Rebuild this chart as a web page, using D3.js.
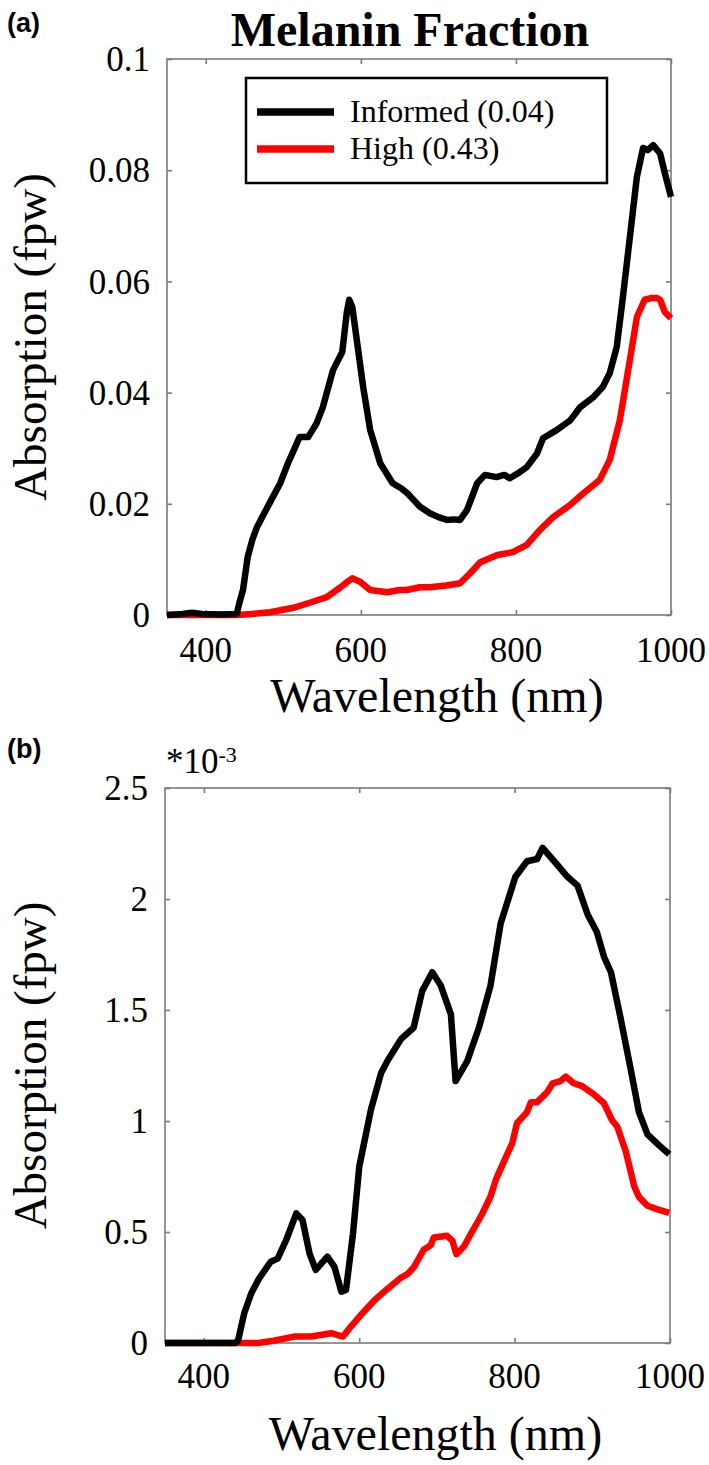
<!DOCTYPE html>
<html>
<head>
<meta charset="utf-8">
<script src="https://cdn.jsdelivr.net/npm/d3@7"></script>
<style>
  html, body { margin: 0; padding: 0; background: #fff; }
  svg { display: block; }
</style>
</head>
<body>
<svg id="chart" width="709" height="1465"></svg>
<script>
// ---------- DATA ----------
const xTicks = [400, 600, 800, 1000];
const yTicksA = [0, 0.02, 0.04, 0.06, 0.08, 0.1];
const yTickLabelsA = ["0", "0.02", "0.04", "0.06", "0.08", "0.1"];
const yTicksB = [0, 0.5, 1, 1.5, 2, 2.5];
const yTickLabelsB = ["0", "0.5", "1", "1.5", "2", "2.5"];
const seriesNames = ["Informed (0.04)", "High (0.43)"];
const seriesColors = ["#000000", "#ff0000"];

// Panel (a) – Informed (black)
const aInformedWl = [350,370,382,395,420,440,443,448,454,460,466,472,483,496,506,514,521,532,543,551,564,576,582,585,589,596,603,612,625,641,652,660,668,676,689,700,711,720,728,737,750,760,775,785,792,804,814,827,835,853,870,883,900,912,921,930,938,947,956,964,970,977,986,992,1000];
const aInformedVal = [0,0.0002,0.0004,0.0002,0.0001,0.0002,0.002,0.0045,0.0104,0.0135,0.0158,0.0174,0.0203,0.0237,0.0273,0.0298,0.032,0.032,0.0345,0.0374,0.044,0.0473,0.0545,0.0567,0.0554,0.0482,0.041,0.0333,0.0273,0.0237,0.0228,0.0219,0.0207,0.0195,0.0183,0.0176,0.0171,0.0172,0.0171,0.0189,0.0237,0.0252,0.0248,0.0252,0.0246,0.0256,0.0266,0.029,0.0318,0.0333,0.035,0.0374,0.0392,0.041,0.0435,0.0482,0.0572,0.068,0.0788,0.084,0.0836,0.0845,0.083,0.0795,0.0752];
// Panel (a) – High (red)
const aHighWl = [350,440,460,483,513,534,556,573,583,589,599,612,634,650,659,676,689,710,728,741,754,776,796,814,831,848,870,887,908,921,934,947,956,966,974,982,986,992,1000];
const aHighVal = [0,0,0.0002,0.0005,0.0013,0.0022,0.0032,0.0049,0.006,0.0066,0.006,0.0045,0.0041,0.0045,0.0045,0.005,0.005,0.0053,0.0057,0.0075,0.0095,0.0108,0.0113,0.0126,0.0153,0.0176,0.0198,0.0219,0.0243,0.0279,0.035,0.0459,0.0536,0.0567,0.057,0.057,0.0567,0.0545,0.0534];

// Panel (b) – Informed (black), units of 1e-3
const bInformedWl = [350,440,444,452,461,471,486,495,506,519,527,536,544,559,568,577,583,592,600,615,628,637,654,670,681,694,705,718,724,739,754,769,782,801,816,829,836,851,868,881,894,906,915,924,936,949,960,971,986,999];
const bInformedVal = [0,0,0.01,0.134,0.224,0.29,0.366,0.38,0.464,0.584,0.554,0.404,0.329,0.389,0.344,0.231,0.239,0.494,0.794,1.05,1.215,1.275,1.37,1.42,1.585,1.67,1.61,1.48,1.18,1.27,1.42,1.61,1.89,2.10,2.17,2.18,2.23,2.17,2.10,2.06,1.93,1.85,1.74,1.67,1.47,1.24,1.04,0.94,0.89,0.85];
// Panel (b) – High (red)
const bHighWl = [350,470,490,516,538,564,579,589,602,620,637,654,662,670,683,692,696,713,720,725,735,745,758,769,776,786,797,803,816,821,829,842,849,859,866,876,887,902,915,925,932,943,954,960,971,984,999];
const bHighVal = [0,0,0.01,0.029,0.029,0.044,0.029,0.073,0.126,0.194,0.246,0.295,0.31,0.34,0.42,0.44,0.475,0.483,0.46,0.40,0.436,0.50,0.58,0.66,0.737,0.816,0.90,0.99,1.04,1.085,1.085,1.13,1.17,1.18,1.20,1.17,1.157,1.12,1.08,1.006,0.975,0.864,0.705,0.658,0.618,0.602,0.586];

// ---------- DRAW ----------
const svg = d3.select("#chart");
const serif = "'Liberation Serif', 'Times New Roman', serif";
const sans = "'Liberation Sans', Arial, sans-serif";

function zip(w, v) { return w.map((d, i) => ({ x: d, y: v[i] })); }

function panel(cfg) {
  const x = d3.scaleLinear().domain([350, 1000]).range([cfg.left, cfg.right]);
  const y = d3.scaleLinear().domain([0, cfg.yMax]).range([cfg.bottom, cfg.top]);
  const g = svg.append("g");
  const axisColor = "#7a7a7a";
  const tickLen = 5;

  g.append("rect")
    .attr("x", cfg.left).attr("y", cfg.top)
    .attr("width", cfg.right - cfg.left).attr("height", cfg.bottom - cfg.top)
    .attr("fill", "none").attr("stroke", axisColor).attr("stroke-width", 1.6);

  const bottomAxis = d3.axisBottom(x).tickValues(xTicks).tickSize(-tickLen).tickFormat("");
  const topAxis = d3.axisTop(x).tickValues(xTicks).tickSize(-tickLen).tickFormat("");
  const leftAxis = d3.axisLeft(y).tickValues(cfg.yTicks).tickSize(-tickLen).tickFormat("");
  const rightAxis = d3.axisRight(y).tickValues(cfg.yTicks).tickSize(-tickLen).tickFormat("");
  [[bottomAxis, `translate(0,${cfg.bottom})`], [topAxis, `translate(0,${cfg.top})`],
   [leftAxis, `translate(${cfg.left},0)`], [rightAxis, `translate(${cfg.right},0)`]].forEach(([ax, tr]) => {
    const a = g.append("g").attr("transform", tr).call(ax);
    a.select(".domain").remove();
    a.selectAll("line").attr("stroke", axisColor).attr("stroke-width", 1.6);
  });

  g.selectAll(".xl").data(xTicks).join("text")
    .attr("x", d => x(d)).attr("y", cfg.bottom + cfg.xLabelOffset)
    .attr("text-anchor", "middle")
    .attr("font-family", serif).attr("font-size", 35).attr("fill", "#000")
    .text(d => d);
  g.selectAll(".yl").data(cfg.yTicks).join("text")
    .attr("x", cfg.left - 17).attr("y", d => y(d))
    .attr("dy", "0.35em")
    .attr("text-anchor", "end")
    .attr("font-family", serif).attr("font-size", 35).attr("fill", "#000")
    .text((d, i) => cfg.yTickLabels[i]);

  g.append("text")
    .attr("x", (cfg.left + cfg.right) / 2 + 18).attr("y", cfg.bottom + cfg.xTitleOffset)
    .attr("text-anchor", "middle")
    .attr("font-family", serif).attr("font-size", 48).attr("fill", "#000")
    .text("Wavelength (nm)");
  g.append("text")
    .attr("transform", `translate(46,${(cfg.top + cfg.bottom) / 2}) rotate(-90)`)
    .attr("text-anchor", "middle")
    .attr("font-family", serif).attr("font-size", 47).attr("fill", "#000")
    .text("Absorption (fpw)");

  const line = d3.line().x(d => x(d.x)).y(d => y(d.y)).curve(d3.curveLinear);
  cfg.series.forEach((s) => {
    g.append("path")
      .datum(zip(s.wl, s.val))
      .attr("d", line)
      .attr("fill", "none")
      .attr("stroke", seriesColors[s.colorIndex])
      .attr("stroke-width", 6.5)
      .attr("stroke-linejoin", "round")
      .attr("stroke-linecap", "butt");
  });
  return { x, y, g };
}

panel({
  left: 167, right: 671, top: 59, bottom: 615, yMax: 0.1,
  yTicks: yTicksA, yTickLabels: yTickLabelsA,
  xLabelOffset: 47, xTitleOffset: 97,
  series: [
    { wl: aHighWl, val: aHighVal, colorIndex: 1 },
    { wl: aInformedWl, val: aInformedVal, colorIndex: 0 }
  ]
});

panel({
  left: 165, right: 670, top: 788, bottom: 1343, yMax: 2.5,
  yTicks: yTicksB, yTickLabels: yTickLabelsB,
  xLabelOffset: 45, xTitleOffset: 107,
  series: [
    { wl: bHighWl, val: bHighVal, colorIndex: 1 },
    { wl: bInformedWl, val: bInformedVal, colorIndex: 0 }
  ]
});

svg.append("text").attr("x", 410).attr("y", 46).attr("text-anchor", "middle")
  .attr("font-family", serif).attr("font-weight", "bold").attr("font-size", 48)
  .text("Melanin Fraction");
svg.append("text").attr("x", 7).attr("y", 32)
  .attr("font-family", sans).attr("font-weight", "bold").attr("font-size", 27)
  .text("(a)");
svg.append("text").attr("x", 7).attr("y", 758)
  .attr("font-family", sans).attr("font-weight", "bold").attr("font-size", 27)
  .text("(b)");

const exp = svg.append("text").attr("x", 166).attr("y", 773)
  .attr("font-family", serif).attr("font-size", 35);
exp.append("tspan").text("*10");
exp.append("tspan").attr("font-size", 22).attr("dy", -11).text("-3");

const lg = svg.append("g");
lg.append("rect").attr("x", 246).attr("y", 78).attr("width", 361).attr("height", 105)
  .attr("fill", "#fff").attr("stroke", "#000").attr("stroke-width", 2.5);
seriesNames.forEach((name, i) => {
  const ly = 112 + i * 37;
  lg.append("line").attr("x1", 257).attr("x2", 334).attr("y1", ly).attr("y2", ly)
    .attr("stroke", seriesColors[i]).attr("stroke-width", 7.5);
  lg.append("text").attr("x", 350).attr("y", ly + 10)
    .attr("font-family", serif).attr("font-size", 32).text(name);
});
</script>
</body>
</html>
